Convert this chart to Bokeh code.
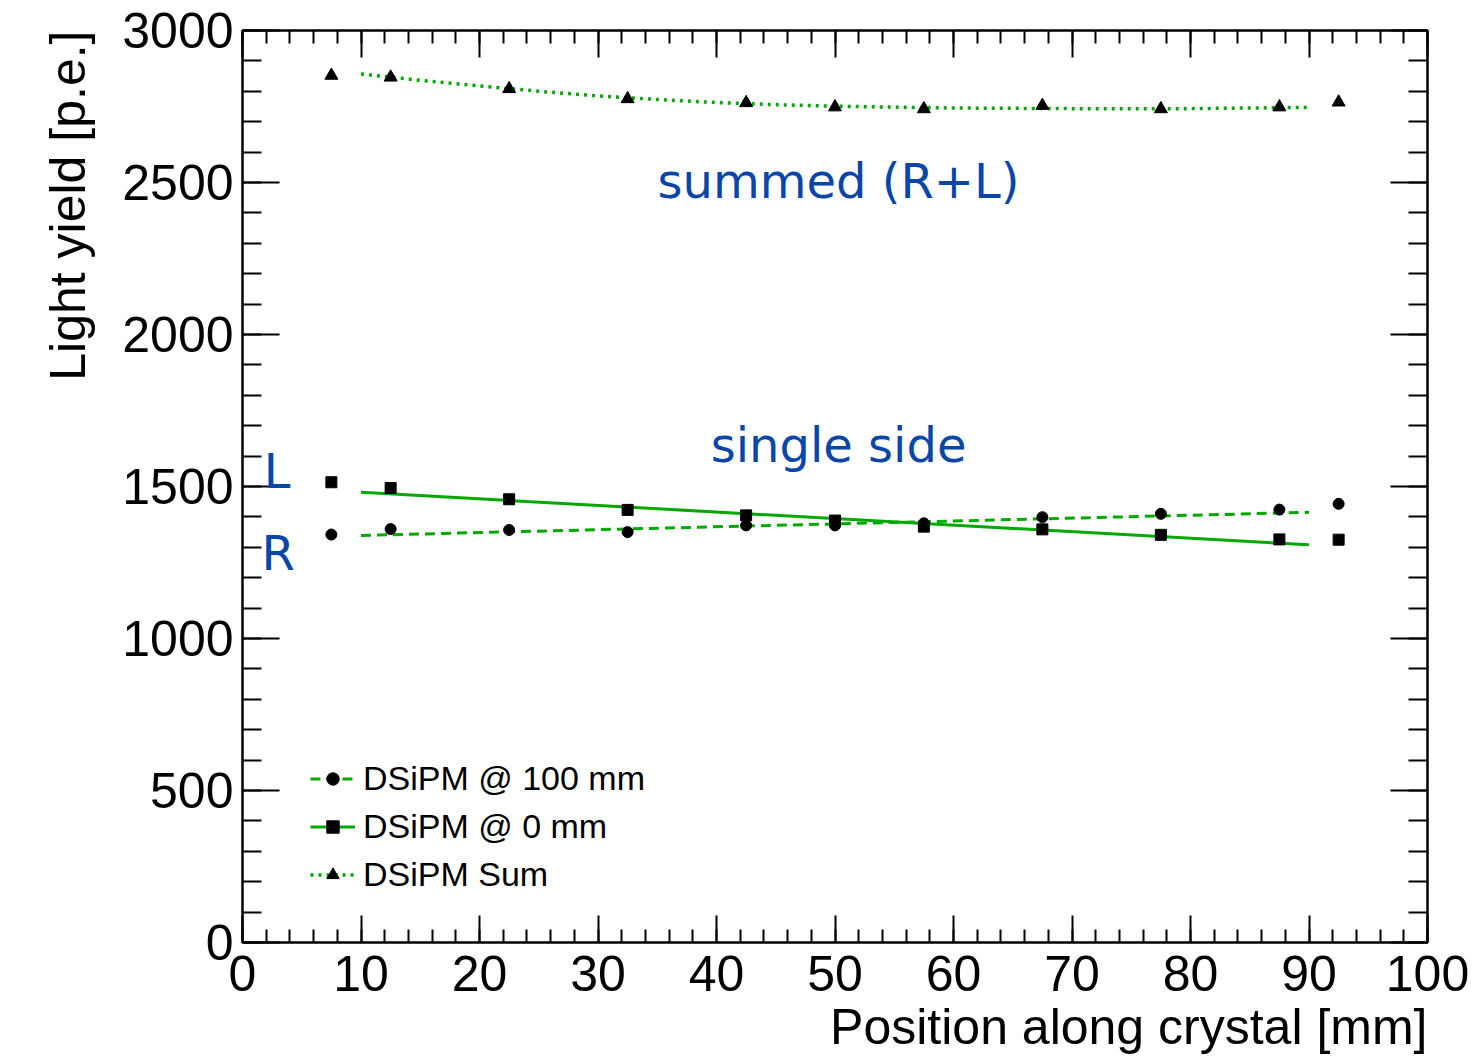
from bokeh.plotting import figure
from bokeh.models import (Range1d, LinearAxis, SingleIntervalTicker, Label, Legend,
                          LegendItem, CustomJSTickFormatter, Title)
from bokeh.embed import file_html
from bokeh.resources import INLINE

# ---- data ----
positions = [7.5, 12.5, 22.5, 32.5, 42.5, 50.0, 57.5, 67.5, 77.5, 87.5, 92.5]
ly_100mm = [1342, 1360, 1357, 1350, 1372, 1372, 1379, 1399, 1410, 1424, 1443]   # R, circles
ly_0mm = [1514, 1495, 1458, 1423, 1405, 1388, 1368, 1359, 1341, 1326, 1325]     # L, squares
ly_sum = [2852, 2846, 2808, 2775, 2762, 2748, 2742, 2753, 2742, 2748, 2764]     # triangles

fit_lin_x = [10, 90]
fit_100mm_y = [1339, 1415]
fit_0mm_y = [1481, 1308]
fit_sum_x = [10, 15, 20, 25, 30, 35, 40, 45, 50, 60, 70, 80, 90]
fit_sum_y = [2857, 2836, 2818, 2800, 2785, 2773, 2763, 2756, 2751, 2745, 2743, 2743, 2747]

legend_labels = ["DSiPM @ 100 mm", "DSiPM @ 0 mm", "DSiPM Sum"]
x_title = "Position along crystal [mm]"
y_title = "Light yield [p.e.]"

GREEN = "#00a800"
BLUE = "#0a46a8"
TICK_FONT = "Liberation Sans"

p = figure(width=1474, height=1058, output_backend="svg", toolbar_location=None,
           x_range=Range1d(0, 100), y_range=Range1d(0, 3000),
           min_border_left=242, min_border_right=47, min_border_top=30, min_border_bottom=116)
p.xgrid.visible = False
p.ygrid.visible = False
p.outline_line_color = "black"
p.outline_line_width = 2
p.background_fill_color = "white"
p.border_fill_color = "white"


def style_axis(ax, major_in, minor_in, interval, labels=True):
    ax.ticker = SingleIntervalTicker(interval=interval, num_minor_ticks=5)
    ax.major_tick_in = major_in
    ax.major_tick_out = 0
    ax.minor_tick_in = minor_in
    ax.minor_tick_out = 0
    ax.axis_line_color = "black"
    ax.axis_line_width = 2
    ax.major_tick_line_color = "black"
    ax.major_tick_line_width = 2
    ax.minor_tick_line_color = "black"
    ax.minor_tick_line_width = 2
    ax.major_label_text_font = TICK_FONT
    ax.major_label_text_font_size = "50px"
    ax.major_label_text_color = "black"
    if not labels:
        ax.formatter = CustomJSTickFormatter(code="return ''")


xax = p.xaxis[0]
yax = p.yaxis[0]
style_axis(xax, 27, 13, 10)
xax.major_label_standoff = 13
style_axis(yax, 37, 19, 500)
yax.major_label_standoff = 9

top_axis = LinearAxis()
style_axis(top_axis, 27, 13, 10, labels=False)
top_axis.major_label_standoff = 0
p.add_layout(top_axis, "above")
right_axis = LinearAxis()
style_axis(right_axis, 37, 19, 500, labels=False)
right_axis.major_label_standoff = 0
p.add_layout(right_axis, "right")

# ---- axis titles (ROOT style: aligned to the far end of each axis) ----
p.add_layout(Title(text=x_title, align="right", standoff=6, text_font=TICK_FONT,
                   text_font_size="50px", text_font_style="normal",
                   text_color="black"), "below")
p.add_layout(Title(text=y_title, align="right", standoff=48, text_font=TICK_FONT,
                   text_font_size="50px", text_font_style="normal",
                   text_color="black"), "left")

# ---- fits ----
l100 = p.line(fit_lin_x, fit_100mm_y, line_color=GREEN, line_width=3, line_dash="10 6")
l0 = p.line(fit_lin_x, fit_0mm_y, line_color=GREEN, line_width=3)
lsum = p.line(fit_sum_x, fit_sum_y, line_color=GREEN, line_width=3.5, line_dash="3 5")

# ---- points ----
s100 = p.scatter(positions, ly_100mm, marker="circle", size=11, color="black")
s0 = p.scatter(positions, ly_0mm, marker="square", size=11, color="black")
ssum = p.scatter(positions, ly_sum, marker="triangle", size=13, color="black")

# ---- legend ----
legend = Legend(items=[LegendItem(label=legend_labels[0], renderers=[l100, s100]),
                       LegendItem(label=legend_labels[1], renderers=[l0, s0]),
                       LegendItem(label=legend_labels[2], renderers=[lsum, ssum])],
                location=(68, 44), orientation="vertical",
                padding=0, margin=0, spacing=0,
                glyph_width=45, glyph_height=31, label_height=48,
                label_standoff=8,
                label_text_font=TICK_FONT, label_text_font_size="34px",
                label_text_color="black",
                label_text_baseline="middle",
                border_line_color=None, background_fill_alpha=0)
p.add_layout(legend)

# ---- annotations ----
for txt, x, y, align in [("summed (R+L)", 50.3, 2505, "center"),
                         ("single side", 50.3, 1638, "center"),
                         ("L", 1.8, 1551, "left"),
                         ("R", 1.6, 1280, "left")]:
    p.add_layout(Label(x=x, y=y, text=txt, text_align=align, text_baseline="alphabetic",
                       text_font="DejaVu Sans", text_font_size="48px", text_color=BLUE))

open("out.html", "w").write(file_html(p, INLINE))
